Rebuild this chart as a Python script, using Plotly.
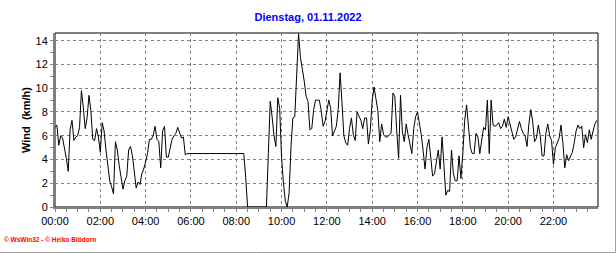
import pandas as pd
import plotly.graph_objects as go

title_text = "Dienstag, 01.11.2022"
y_title = "Wind\u00a0 (km/h)"
footer_text = "\u00a9 WsWin32 - \u00a9 Heiko Bl\u00f6dorn"

day_start = "2022-11-01 00:00"
axis_end = "2022-11-01 23:58"
sample_freq = "5min"

wind_kmh = [
    6.7, 6.9, 5.2, 6.0, 5.8, 5.0, 4.1, 3.0, 6.5, 7.3,
    5.6, 5.9, 6.0, 6.7, 9.8, 8.4, 6.6, 7.5, 9.4, 8.1,
    5.7, 5.6, 6.6, 5.9, 4.6, 7.1, 6.4, 4.8, 3.3, 2.2,
    1.7, 1.1, 5.5, 4.8, 3.5, 2.4, 1.5, 2.2, 2.6, 4.8,
    5.1, 4.3, 3.0, 1.6, 2.1, 1.9, 2.8, 3.2, 3.8, 4.5,
    5.7, 5.7, 6.0, 6.8, 5.7, 5.5, 3.3, 6.4, 6.8, 4.2,
    4.2, 5.1, 5.7, 6.0, 6.2, 6.7, 6.2, 5.8, 5.9, 4.4,
    4.5, 4.5, 4.5, 4.5, 4.5, 4.5, 4.5, 4.5, 4.5, 4.5,
    4.5, 4.5, 4.5, 4.5, 4.5, 4.5, 4.5, 4.5, 4.5, 4.5,
    4.5, 4.5, 4.5, 4.5, 4.5, 4.5, 4.5, 4.5, 4.5, 4.5,
    4.5, 2.5, 0.0, 0.0, 0.0, 0.0, 0.0, 0.0, 0.0, 0.0,
    0.0, 0.0, 0.0, 4.5, 8.9, 7.6, 6.0, 5.1, 9.2, 8.3,
    4.2, 2.0, 0.5, 0.0, 1.2, 5.1, 7.5, 7.6, 10.7, 14.6,
    12.6, 11.7, 10.6, 9.3, 8.9, 6.5, 6.6, 8.2, 9.0, 9.0,
    9.0, 8.1, 6.8, 7.2, 8.2, 9.0, 8.3, 6.0, 6.4, 6.8,
    8.2, 11.3, 8.8, 6.0, 5.4, 5.2, 6.6, 7.5, 6.1, 5.6,
    8.0, 7.7, 7.3, 6.6, 7.5, 7.5, 5.3, 6.5, 9.0, 10.1,
    9.0, 8.1, 5.5, 7.0, 6.1, 5.9, 5.9, 6.1, 6.2, 9.6,
    9.3, 6.4, 4.1, 9.4, 6.3, 5.5, 7.0, 6.1, 5.3, 4.5,
    6.6, 7.6, 8.0, 7.2, 6.1, 4.7, 3.2, 5.0, 5.7, 4.2,
    2.6, 2.8, 4.0, 4.8, 3.2, 5.9, 3.5, 1.0, 1.4, 1.3,
    4.8, 2.8, 2.2, 2.2, 4.3, 2.4, 4.5, 7.3, 8.6, 6.6,
    5.0, 4.5, 4.5, 6.2, 5.9, 4.5, 5.5, 6.7, 6.5, 9.0,
    4.5, 9.0, 6.9, 6.8, 6.9, 7.1, 6.6, 6.8, 7.4, 6.7,
    7.6, 7.0, 6.4, 5.7, 5.9, 6.5, 7.2, 6.6, 6.2, 6.0,
    5.1, 7.0, 8.2, 7.2, 5.5, 5.8, 6.9, 6.0, 4.3, 4.3,
    6.2, 7.0, 6.0, 5.6, 3.6, 5.0, 5.5, 5.8, 6.9, 5.4,
    3.3, 4.4, 3.9, 4.2, 4.6, 5.4, 6.4, 6.9, 6.6, 6.8,
    5.0, 6.1, 5.4, 6.5, 5.7, 6.4, 7.0, 7.3,
]

times = pd.date_range(day_start, periods=len(wind_kmh), freq=sample_freq)

FONT = "Liberation Sans, Arial, sans-serif"
GRID = "#808080"

fig = go.Figure()
fig.add_trace(go.Scatter(
    x=times, y=wind_kmh, mode="lines",
    line=dict(color="black", width=1),
    hoverinfo="skip", showlegend=False,
))

W, H = 616, 253
L, R, T, B = 55, 18, 33, 46
pw, ph = W - L - R, H - T - B

def px_x(px):
    return (px - L) / pw

def px_y(py):
    return (H - B - py) / ph

fig.update_layout(
    width=W, height=H, autosize=False,
    margin=dict(l=L, r=R, t=T, b=B, pad=0, autoexpand=False),
    paper_bgcolor="white", plot_bgcolor="white",
    showlegend=False,
    title=dict(
        text=title_text,
        font=dict(family=FONT, size=11, color="#0000FF", weight="bold"),
        x=0.5, xref="container", xanchor="center",
        y=1 - 17 / H, yref="container", yanchor="middle",
    ),
)

fig.update_xaxes(
    type="date",
    range=[day_start, axis_end],
    tickformat="%H:%M",
    dtick=7200000, tick0=day_start,
    showgrid=True, gridcolor=GRID, gridwidth=1, griddash="3px,3px",
    showline=True, linecolor=GRID, linewidth=2,
    ticks="outside", ticklen=3, tickcolor=GRID, tickwidth=1,
    minor=dict(dtick=1800000, ticks="outside", ticklen=3, tickcolor=GRID, showgrid=False),
    tickfont=dict(family=FONT, size=11, color="black"),
    zeroline=False, fixedrange=True, automargin=False,
)
fig.update_yaxes(
    range=[0, 14.65],
    dtick=2, tick0=0,
    showgrid=True, gridcolor=GRID, gridwidth=1, griddash="3px,3px",
    showline=True, linecolor=GRID, linewidth=2,
    ticks="outside", ticklen=3, tickcolor=GRID, tickwidth=1,
    minor=dict(dtick=1, ticks="outside", ticklen=3, tickcolor=GRID, showgrid=False),
    tickfont=dict(family=FONT, size=11, color="black"),
    zeroline=False, fixedrange=True, automargin=False,
)

# plot frame (black top/right) and outer picture frame
fig.add_shape(type="rect", xref="paper", yref="paper", x0=0, x1=1, y0=0, y1=1,
              line=dict(color="black", width=1), layer="below")
fig.add_shape(type="line", xref="paper", yref="paper",
              x0=px_x(615.5), x1=px_x(615.5), y0=px_y(0), y1=px_y(252.5),
              line=dict(color="#a0a0a0", width=1))
fig.add_shape(type="line", xref="paper", yref="paper",
              x0=px_x(0), x1=px_x(615.5), y0=px_y(252.5), y1=px_y(252.5),
              line=dict(color="#a0a0a0", width=1))

fig.add_annotation(
    text="<b>" + y_title + "</b>", textangle=-90,
    xref="paper", yref="paper", x=px_x(26), y=0.5,
    xanchor="center", yanchor="middle", showarrow=False,
    font=dict(family=FONT, size=11, color="black"),
)
fig.add_annotation(
    text="<b>" + footer_text + "</b>",
    xref="paper", yref="paper", x=px_x(2), y=px_y(239),
    xanchor="left", yanchor="middle", showarrow=False,
    font=dict(family=FONT, size=6.5, color="#FF0000"),
)

fig.write_html("out.html")
